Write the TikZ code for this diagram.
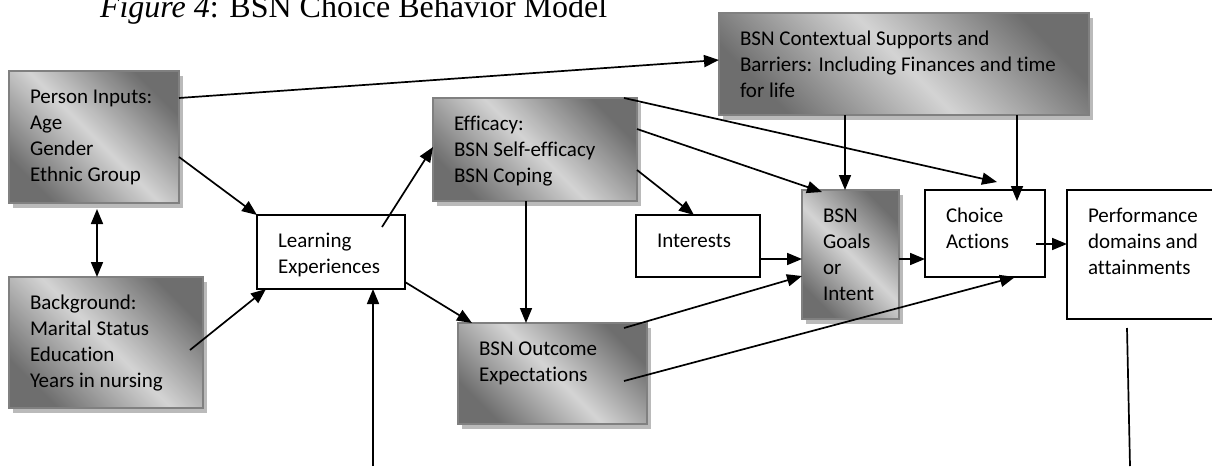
\documentclass[tikz,border=0pt]{standalone}
\usepackage{fontspec}
\setmainfont{Carlito}[Ligatures={NoCommon}]
\newfontfamily\tnr{Liberation Serif}
\usetikzlibrary{arrows.meta,calc,shadows}
\newcommand\bx[3]{\parbox[c][#2pt][t]{#1pt}{\raggedright\leftskip=21pt\rule{0pt}{32pt}#3}}
\begin{document}
\begin{tikzpicture}[x=1pt,y=-1pt,
  every node/.style={inner sep=0pt, outer sep=0pt, anchor=north west, font=\fontsize{21}{26}\selectfont},
  gbox/.style={draw=black!50, line width=2.2pt, top color=black!57, bottom color=black!57, middle color=black!17, shading angle=-45,
    drop shadow={shadow xshift=4pt, shadow yshift=-5pt, fill=black!27, opacity=1}},
  wbox/.style={draw=black, line width=2pt, fill=white},
  arr/.style={line width=1.7pt, -{Triangle[length=15pt,width=12pt]}},
  ln/.style={line width=1.7pt}]
\useasboundingbox (0,0) rectangle (1212,466);
\node[anchor=base west, font=\tnr\fontsize{32}{38}\selectfont] (title) at (100,17.5) {\textit{Figure 4}: BSN Choice Behavior Model};
\node[gbox] (pi) at (9,71) {\bx{170}{132}{Person Inputs:\\Age\\Gender\\Ethnic Group}};
\node[gbox] (bg) at (9,277) {\bx{194}{131}{Background:\\Marital Status\\Education\\Years in nursing}};
\node[wbox] (le) at (257,215) {\bx{148}{74}{Learning\\Experiences}};
\node[gbox] (ef) at (433,98) {\bx{204}{103}{Efficacy:\\BSN Self-efficacy\\BSN Coping}};
\node[gbox] (cs) at (719,13) {\bx{370}{102}{BSN Contextual Supports and\\Barriers: Including Finances and time\\for life}};
\node[wbox] (in) at (636,215) {\bx{124}{62}{Interests}};
\node[gbox] (oe) at (458,323) {\bx{189}{101}{BSN Outcome\\Expectations}};
\node[gbox] (go) at (802,190) {\bx{97}{129}{BSN\\Goals\\or\\Intent}};
\node[wbox] (ch) at (925,190) {\bx{120}{87}{Choice\\Actions}};
\node[wbox] (pf) at (1067,190) {\bx{163}{129}{Performance\\domains and\\attainments}};
\coordinate (lb) at ($(le.south west)+(116,177)$);
\coordinate (pb) at ($(pf.south west)+(63,147)$);
% connectors
\draw[ln, {Triangle[length=15pt,width=12pt]}-{Triangle[length=15pt,width=12pt]}] ($(pi.south west)+(88,6)$) -- ($(bg.north west)+(88,0)$);
\draw[arr] ($(pi.north east)+(0,27)$) -- ($(cs.north west)+(0,47)$);
\draw[arr] ($(pi.north east)+(0,86)$) -- (le.north west);
\draw[arr] ($(bg.north east)+(-13,73)$) -- ($(le.south west)+(9,0)$);
\draw[arr] ($(le.north east)+(-23,12)$) -- ($(ef.north west)+(0,49)$);
\draw[arr] ($(le.south east)+(0,-7)$) -- ($(oe.north west)+(14,0)$);
\draw[arr] (lb) -- ($(le.south west)+(116,0)$);
\draw[arr] ($(ef.south west)+(93,0)$) -- ($(oe.north west)+(68,0)$);
\draw[arr] ($(ef.south east)+(0,-31)$) -- ($(in.north west)+(58,0)$);
\draw[arr] ($(ef.north east)+(0,31)$) -- ($(go.north west)+(20,2)$);
\draw[arr] ($(ef.north east)+(-13,0)$) -- ($(ch.north west)+(72,-8)$);
\draw[arr] ($(cs.south west)+(126,0)$) -- ($(go.north west)+(43,0)$);
\draw[arr] ($(cs.south west)+(298,0)$) -- ($(ch.north west)+(92,11)$);
\draw[arr] ($(in.south east)+(0,-18)$) -- ($(go.north west)+(0,69)$);
\draw[arr] ($(oe.north east)+(-23,5)$) -- ($(go.north west)+(0,86)$);
\draw[arr] ($(oe.north east)+(-23,58)$) -- ($(ch.south west)+(90,0)$);
\draw[arr] ($(go.north east)+(0,69)$) -- ($(ch.north west)+(0,69)$);
\draw[arr] ($(ch.north east)+(-9,54)$) -- ($(pf.north west)+(0,54)$);
\draw[ln] ($(pf.south west)+(60,9)$) -- (pb);
\end{tikzpicture}
\end{document}
